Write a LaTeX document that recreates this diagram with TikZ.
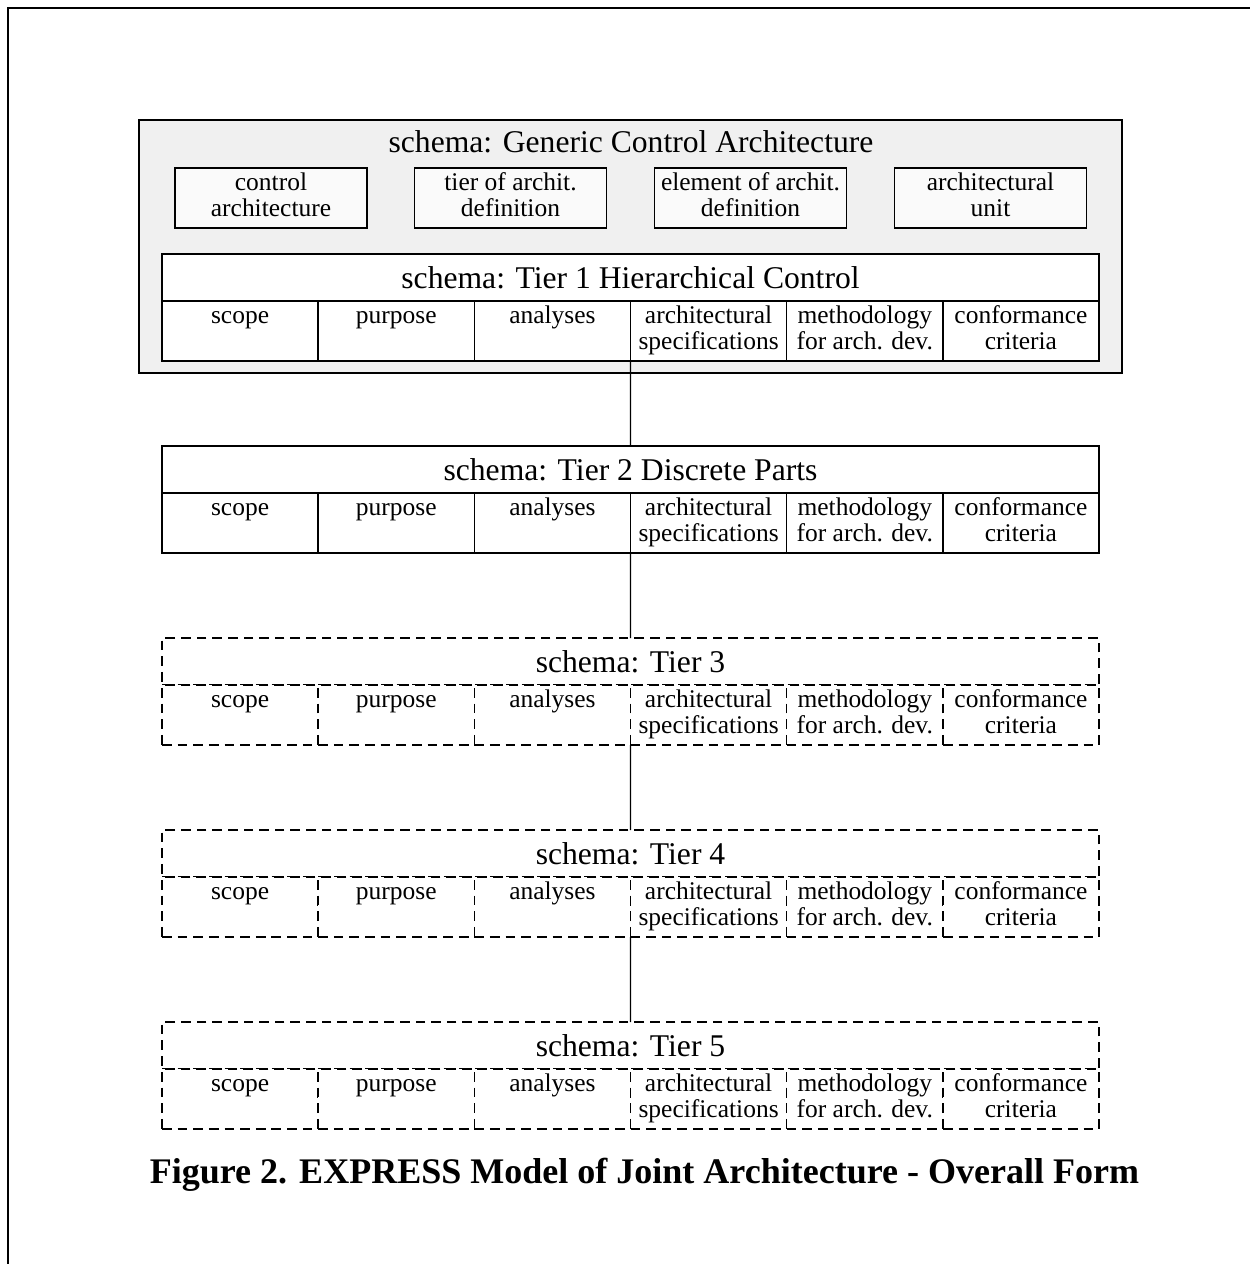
\documentclass[tikz,border=0pt]{standalone}
\usepackage{fontspec}
\setmainfont{Liberation Serif}
\usetikzlibrary{calc}
\def\titlefont{\fontsize{18}{20}\selectfont}
\def\cellfont{\fontsize{14.5}{14.7}\selectfont}
\def\tierschema[#1](#2)(#3:#4) %Syntax: [box options](name)(top y:title)
{ \node[#1,minimum width=18.74cm,minimum height=0.94cm,font=\titlefont] (#2) at (630.5,#3+23.5) {#4};
  \foreach \lab [count=\i] in {{scope\strut\\\strut},{purpose\strut\\\strut},{analyses\strut\\\strut},
      {architectural\strut\\specifications\strut},{methodology\strut\\for arch. dev.\strut},{conformance\strut\\criteria\strut}}
    \node[#1,minimum width=3.1234cm,minimum height=1.2cm] (#2-\i) at ({162+156.17*(\i-0.5)},#3+77) {\lab}; }

\begin{document}
\begin{tikzpicture}[x=0.02cm,y=-0.02cm,line width=0.8pt,
	box/.style={draw,fill=white,inner sep=0pt,outer sep=0pt,align=center,font=\cellfont},
	dbox/.style={box,dash pattern=on 5.5pt off 3.4pt},
	unit/.style={box,fill=gray!4,minimum width=3.84cm,minimum height=1.2cm}]
	\useasboundingbox (0,0) rectangle (1250,1264);
	%page frame (only top and left edges show)
	\draw[line width=1.6pt] (8,1264)--(8,8)--(1250,8);

	%generic control architecture schema
	\node[draw,fill=gray!12,minimum width=19.66cm,minimum height=5.06cm] (generic) at (630.5,246.5) {};
	\node[font=\titlefont] (generictitle) at (631,142) {schema: Generic Control Architecture};
	\node[unit] (unit1) at (271,198)   {control\strut\\architecture\strut};
	\node[unit] (unit2) at (510.5,198) {tier of archit.\strut\\definition\strut};
	\node[unit] (unit3) at (750.5,198) {element of archit.\strut\\definition\strut};
	\node[unit] (unit4) at (990.5,198) {architectural\strut\\unit\strut};

	%tiers
	\tierschema[box](t1)(254:schema: Tier 1 Hierarchical Control)
	\tierschema[box](t2)(446:schema: Tier 2 Discrete Parts)
	\tierschema[dbox](t3)(638:schema: Tier 3)
	\tierschema[dbox](t4)(830:schema: Tier 4)
	\tierschema[dbox](t5)(1022:schema: Tier 5)

	%links between tiers
	\draw (t1-4.south west)--(t2.north);
	\draw (t2-4.south west)--(t3.north);
	\draw (t3-4.south west)--(t4.north);
	\draw (t4-4.south west)--(t5.north);

	%caption
	\node[font=\fontsize{20.5}{24}\bfseries\selectfont] (caption) at (644.5,1175)
		{Figure 2. EXPRESS Model of Joint Architecture - Overall Form};
\end{tikzpicture}
\end{document}
